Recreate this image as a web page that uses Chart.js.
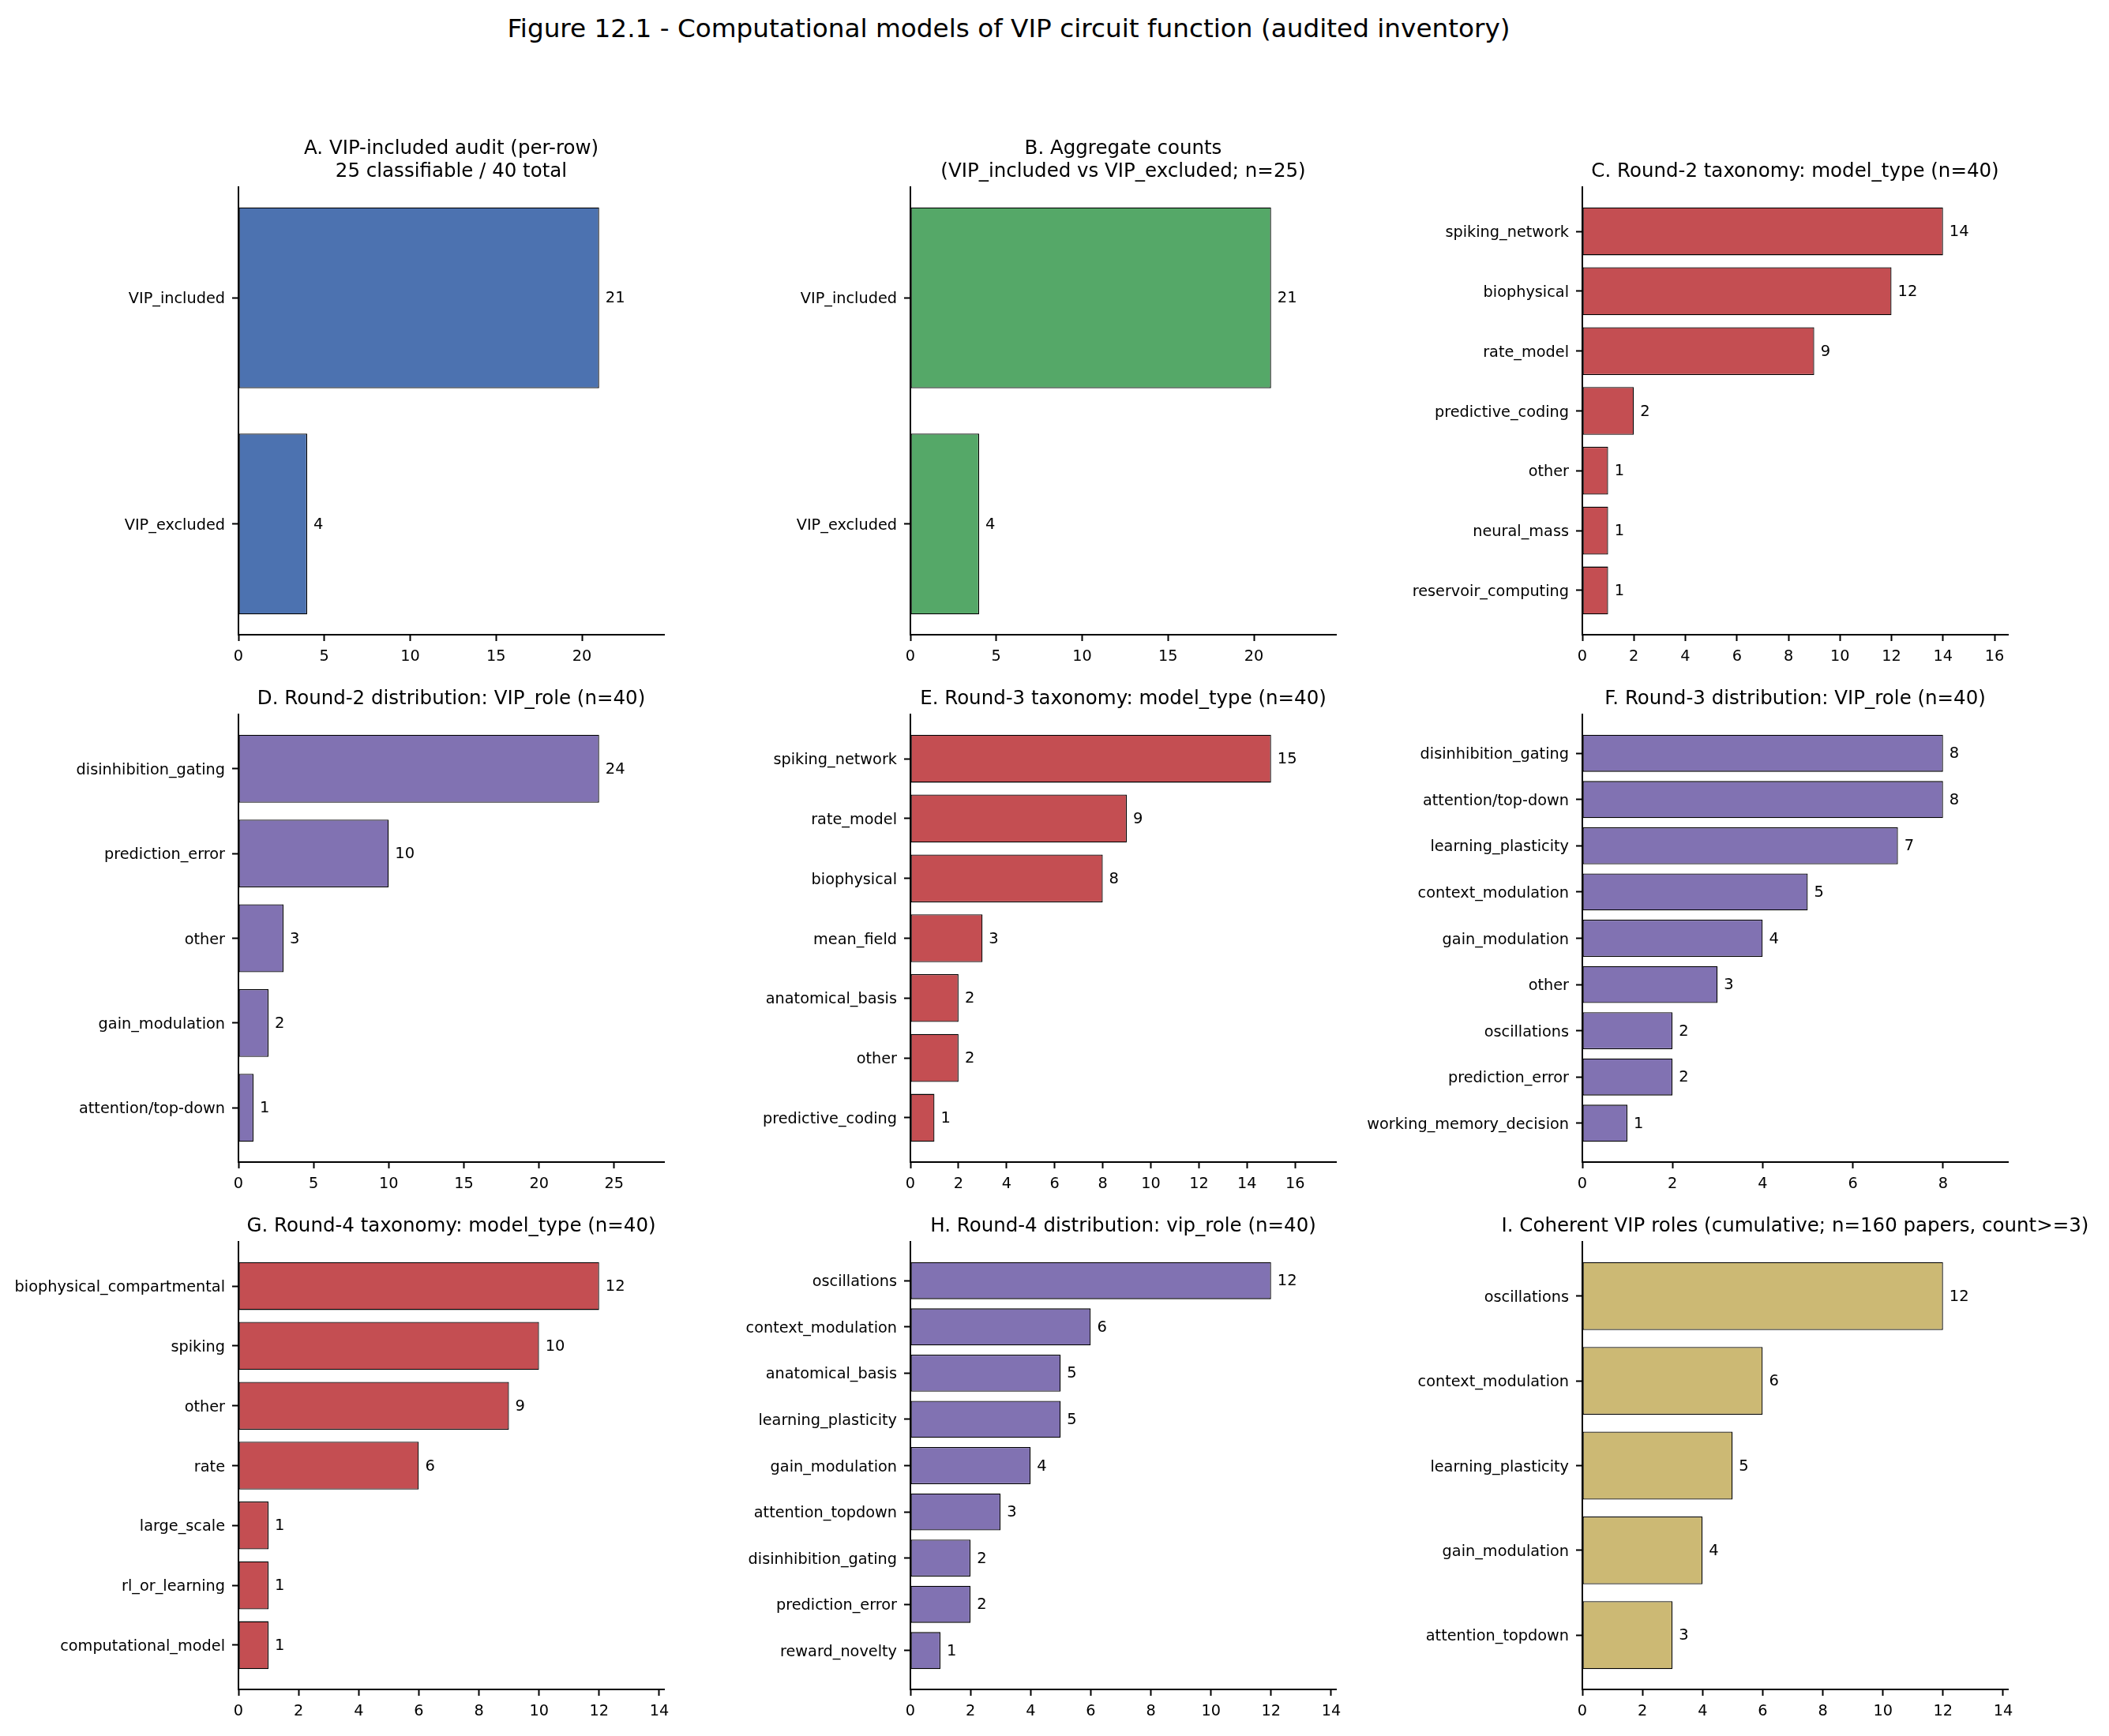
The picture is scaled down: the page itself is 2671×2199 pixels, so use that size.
<!DOCTYPE html>
<html>
<head>
<meta charset="utf-8">
<title>Figure 12.1 - Computational models of VIP circuit function</title>
<script src="https://cdn.jsdelivr.net/npm/chart.js@4.4.1/dist/chart.umd.min.js"></script>
<style>
  html, body { margin: 0; padding: 0; background: #fff; overflow: hidden; }
  body { width: 2671px; height: 2199px; position: relative; }
  #suptitle {
    position: absolute; left: 0; width: 2555px; top: 17px;
    text-align: center; font-family: "DejaVu Sans"; font-size: 32.7px; line-height: 38px;
    color: #000; white-space: nowrap;
  }
  canvas { position: absolute; }
</style>
</head>
<body>
<div id="suptitle">Figure 12.1 - Computational models of VIP circuit function (audited inventory)</div>
<script>
// ---- data ----
const catsA = ['VIP_included', 'VIP_excluded'];
const valsA = [21, 4];
const ticksA = [0, 5, 10, 15, 20];

const catsB = ['VIP_included', 'VIP_excluded'];
const valsB = [21, 4];
const ticksB = [0, 5, 10, 15, 20];

const catsC = ['spiking_network', 'biophysical', 'rate_model', 'predictive_coding', 'other', 'neural_mass', 'reservoir_computing'];
const valsC = [14, 12, 9, 2, 1, 1, 1];
const ticksC = [0, 2, 4, 6, 8, 10, 12, 14, 16];

const catsD = ['disinhibition_gating', 'prediction_error', 'other', 'gain_modulation', 'attention/top-down'];
const valsD = [24, 10, 3, 2, 1];
const ticksD = [0, 5, 10, 15, 20, 25];

const catsE = ['spiking_network', 'rate_model', 'biophysical', 'mean_field', 'anatomical_basis', 'other', 'predictive_coding'];
const valsE = [15, 9, 8, 3, 2, 2, 1];
const ticksE = [0, 2, 4, 6, 8, 10, 12, 14, 16];

const catsF = ['disinhibition_gating', 'attention/top-down', 'learning_plasticity', 'context_modulation', 'gain_modulation', 'other', 'oscillations', 'prediction_error', 'working_memory_decision'];
const valsF = [8, 8, 7, 5, 4, 3, 2, 2, 1];
const ticksF = [0, 2, 4, 6, 8];

const catsG = ['biophysical_compartmental', 'spiking', 'other', 'rate', 'large_scale', 'rl_or_learning', 'computational_model'];
const valsG = [12, 10, 9, 6, 1, 1, 1];
const ticksG = [0, 2, 4, 6, 8, 10, 12, 14];

const catsH = ['oscillations', 'context_modulation', 'anatomical_basis', 'learning_plasticity', 'gain_modulation', 'attention_topdown', 'disinhibition_gating', 'prediction_error', 'reward_novelty'];
const valsH = [12, 6, 5, 5, 4, 3, 2, 2, 1];
const ticksH = [0, 2, 4, 6, 8, 10, 12, 14];

const catsI = ['oscillations', 'context_modulation', 'learning_plasticity', 'gain_modulation', 'attention_topdown'];
const valsI = [12, 6, 5, 4, 3];
const ticksI = [0, 2, 4, 6, 8, 10, 12, 14];

const titles = {
  A: ['A. VIP-included audit (per-row)', '25 classifiable / 40 total'],
  B: ['B. Aggregate counts', '(VIP_included vs VIP_excluded; n=25)'],
  C: 'C. Round-2 taxonomy: model_type (n=40)',
  D: 'D. Round-2 distribution: VIP_role (n=40)',
  E: 'E. Round-3 taxonomy: model_type (n=40)',
  F: 'F. Round-3 distribution: VIP_role (n=40)',
  G: 'G. Round-4 taxonomy: model_type (n=40)',
  H: 'H. Round-4 distribution: vip_role (n=40)',
  I: 'I. Coherent VIP roles (cumulative; n=160 papers, count>=3)'
};

// ---- styling / layout ----
const BLUE = '#4C72B0', GREEN = '#55A868', RED = '#C44E52', PURPLE = '#8172B2', GOLD = '#CCB974';
const colLeft = [302, 1153, 2004];
const rowTop = [237, 905, 1573];
const AX_W = 539, AX_H = 567;
const SIDE = 300;       // room for y tick labels, mirrored on the right so titles centre on the axes
const X_AXIS_H = 60;
const TITLE_LH = 29, TITLE_PAD = 5;

Chart.defaults.font.family = "'DejaVu Sans'";
Chart.defaults.color = '#000';

const valueLabels = {
  id: 'valueLabels',
  afterDatasetsDraw(chart) {
    const ctx = chart.ctx;
    const meta = chart.getDatasetMeta(0);
    const data = chart.data.datasets[0].data;
    ctx.save();
    ctx.font = "19.5px 'DejaVu Sans'";
    ctx.fillStyle = '#000';
    ctx.textAlign = 'left';
    ctx.textBaseline = 'middle';
    meta.data.forEach((bar, i) => {
      ctx.fillText(String(data[i].x), bar.x + 8, bar.y + 1);
    });
    ctx.restore();
  }
};

function makePanel(title, cats, vals, ticks, color, col, row) {
  const lines = Array.isArray(title) ? title.length : 1;
  const titleH = lines * TITLE_LH + TITLE_PAD;
  const canvas = document.createElement('canvas');
  canvas.width = SIDE * 2 + AX_W;
  canvas.height = titleH + AX_H + X_AXIS_H;
  canvas.style.left = (colLeft[col] - SIDE) + 'px';
  canvas.style.top = (rowTop[row] - titleH) + 'px';
  document.body.appendChild(canvas);

  const n = cats.length;
  const margin = 0.05 * (n - 0.2);
  const tickFont = { size: 19.3 };

  new Chart(canvas.getContext('2d'), {
    type: 'bar',
    data: {
      datasets: [{
        xAxisID: 'x',
        yAxisID: 'y',
        data: cats.map((c, i) => ({ x: vals[i], y: i })),
        backgroundColor: color,
        borderColor: '#000',
        borderWidth: 1.3,
        borderSkipped: false,
        barPercentage: 0.8,
        categoryPercentage: 1.0
      }]
    },
    options: {
      indexAxis: 'y',
      responsive: false,
      animation: false,
      devicePixelRatio: 1,
      layout: { padding: 0 },
      plugins: {
        legend: { display: false },
        tooltip: { enabled: false },
        title: {
          display: true,
          text: title,
          color: '#000',
          font: { size: 24.5, weight: 'normal', lineHeight: TITLE_LH + 'px' },
          padding: { top: 0, bottom: TITLE_PAD }
        }
      },
      scales: {
        x: {
          type: 'linear',
          position: 'bottom',
          min: 0,
          max: Math.max(...vals) * 1.18,
          afterBuildTicks: s => { s.ticks = ticks.map(v => ({ value: v })); },
          afterFit: s => { s.height = X_AXIS_H; },
          ticks: { color: '#000', font: tickFont, padding: 8, maxRotation: 0, autoSkip: false },
          grid: { drawOnChartArea: false, drawTicks: true, tickLength: 8, tickWidth: 2, tickColor: '#000', offset: false },
          border: { display: true, color: '#000', width: 2 }
        },
        y: {
          type: 'linear',
          position: 'left',
          reverse: true,
          offset: false,
          min: -0.4 - margin,
          max: n - 0.6 + margin,
          afterBuildTicks: s => { s.ticks = cats.map((c, i) => ({ value: i })); },
          afterFit: s => { s.width = SIDE; },
          ticks: { color: '#000', font: tickFont, padding: 9, labelOffset: 2, autoSkip: false, callback: v => cats[v] },
          grid: { drawOnChartArea: false, drawTicks: true, tickLength: 8, tickWidth: 2, tickColor: '#000', offset: false },
          border: { display: true, color: '#000', width: 2 }
        },
        // empty spacer on the right, same width as the label side
        spacer: {
          type: 'linear',
          axis: 'y',
          position: 'right',
          ticks: { display: false },
          grid: { display: false },
          border: { display: false },
          afterFit: s => { s.width = SIDE; }
        }
      }
    },
    plugins: [valueLabels]
  });
}

makePanel(titles.A, catsA, valsA, ticksA, BLUE, 0, 0);
makePanel(titles.B, catsB, valsB, ticksB, GREEN, 1, 0);
makePanel(titles.C, catsC, valsC, ticksC, RED, 2, 0);
makePanel(titles.D, catsD, valsD, ticksD, PURPLE, 0, 1);
makePanel(titles.E, catsE, valsE, ticksE, RED, 1, 1);
makePanel(titles.F, catsF, valsF, ticksF, PURPLE, 2, 1);
makePanel(titles.G, catsG, valsG, ticksG, RED, 0, 2);
makePanel(titles.H, catsH, valsH, ticksH, PURPLE, 1, 2);
makePanel(titles.I, catsI, valsI, ticksI, GOLD, 2, 2);
</script>
</body>
</html>
